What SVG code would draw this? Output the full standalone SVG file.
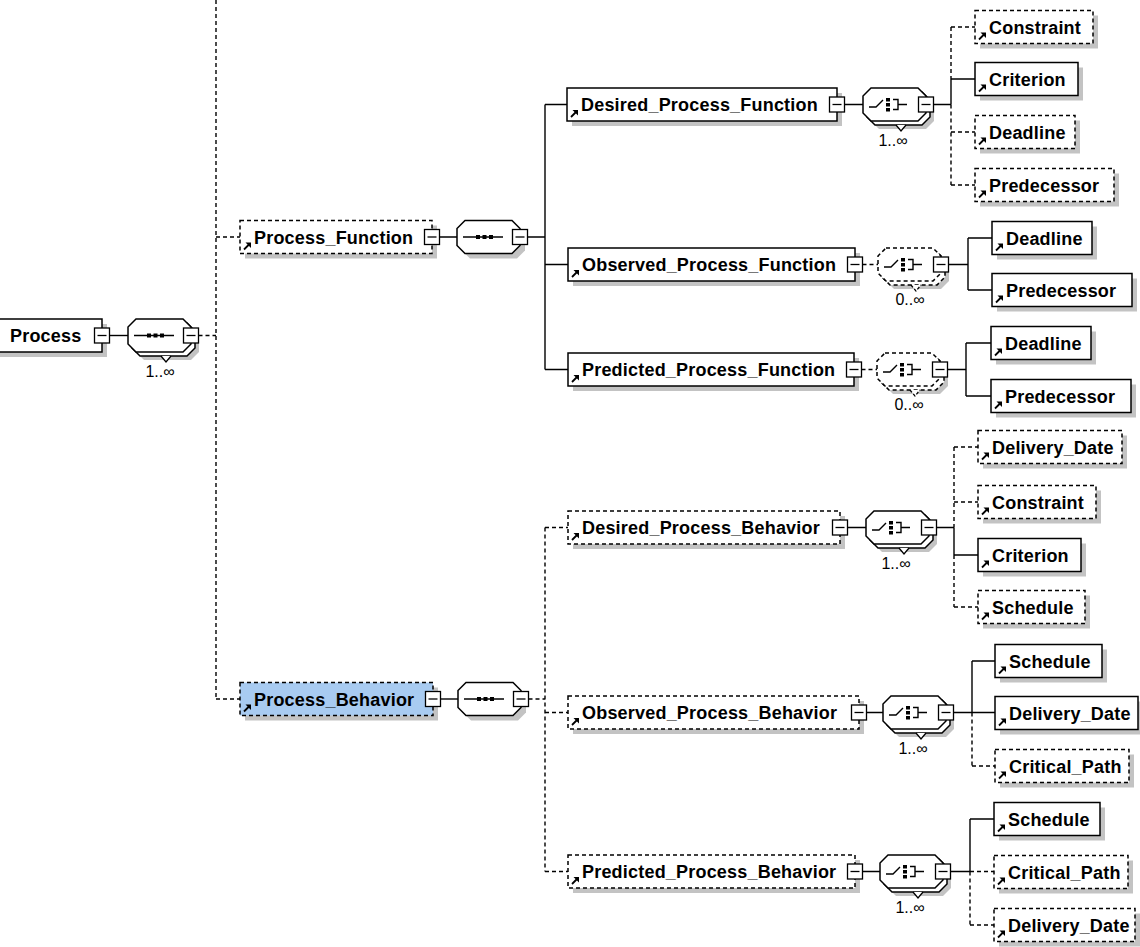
<svg xmlns="http://www.w3.org/2000/svg" xmlns:xlink="http://www.w3.org/1999/xlink" width="1140" height="947" viewBox="0 0 1140 947">
  <style>
    .bx { fill: #fff; stroke: #000; stroke-width: 1.5; }
    .opt { stroke-dasharray: 4 3; }
    .sel { fill: #a8cbf1; }
    .sh { fill: #c3c3c3; stroke: none; }
    .ln { fill: none; stroke: #000; stroke-width: 1.4; }
    .dash { stroke-dasharray: 4 3; }
    .cmp { fill: #fff; stroke: #000; stroke-width: 1.5; }
    .lbl { font-family: "Liberation Sans", Arial, sans-serif; font-weight: bold; font-size: 18px; letter-spacing: 0.2px; fill: #000; }
    .occ { font-family: "Liberation Sans", Arial, sans-serif; font-size: 16px; fill: #000; text-anchor: middle; }
  </style>
  <defs>
    <!-- compositor outline -->
    <path id="oct" d="M8 0H55L63 8V25L55 33H8L0 25V8Z"/>
    <!-- expand/collapse button, centred on its anchor -->
    <g id="minus">
      <rect x="-7.5" y="-7.5" width="15" height="15" fill="#fff" stroke="#000" stroke-width="1.3"/>
      <path d="M-4.5 0H4.5" stroke="#000" stroke-width="1.3"/>
    </g>
    <!-- global reference arrow, anchored at the box's lower-left corner -->
    <g id="ref">
      <path d="M4 -4L9 -9" stroke="#000" stroke-width="1.8"/>
      <path d="M5.5 -11H11V-5.5Z" fill="#000"/>
    </g>
    <!-- sequence glyph -->
    <g id="seqIcon">
      <path d="M6 16.5H46" stroke="#000" stroke-width="1.4"/>
      <rect x="19" y="14.5" width="4" height="4"/>
      <rect x="25.5" y="14.5" width="4" height="4"/>
      <rect x="32" y="14.5" width="4" height="4"/>
    </g>
    <!-- choice glyph -->
    <g id="choiceIcon">
      <path d="M6 19H13L20 12" fill="none" stroke="#000" stroke-width="1.4"/>
      <rect x="23" y="10" width="4" height="3.5"/>
      <rect x="23" y="15" width="4" height="3.5"/>
      <rect x="23" y="20" width="4" height="3.5"/>
      <path d="M30 11.5H35V21.5H30M35 16.5H44" fill="none" stroke="#000" stroke-width="1.4"/>
    </g>
    <!-- stacked back outline for repeating compositors -->
    <g id="stackBack">
      <use xlink:href="#oct" x="8" y="8" class="sh"/>
      <use xlink:href="#oct" x="4" y="4" class="cmp"/>
      <path d="M33 37L38 43L43 37" fill="#fff" stroke="#000" stroke-width="1.3"/>
    </g>
    <g id="stackBackOpt">
      <use xlink:href="#oct" x="8" y="8" class="sh"/>
      <use xlink:href="#oct" x="4" y="4" class="cmp opt"/>
      <path d="M33 37L38 43L43 37" fill="#fff" stroke="#000" stroke-width="1.3" stroke-dasharray="3 2"/>
    </g>
  </defs>

  <!-- connectors -->
  <g id="connectors">
    <path class="ln" d="M110 335.5H128"/>
    <path class="ln dash" d="M198.5 335.5H216M216 0V699M216 237H240M216 699H240"/>

    <path class="ln" d="M439.5 237H457M527.5 237H545M545 104.5V369.5M545 104.5H567M545 264.5H568M545 369.5H568"/>

    <path class="ln" d="M844.5 104.5H863M933.5 104.5H951M951 79V104.5M951 79H975"/>
    <path class="ln dash" d="M951 27V79M951 104.5V185M951 27H975M951 132H975M951 185H975"/>

    <path class="ln dash" d="M862.5 264.5H878"/>
    <path class="ln" d="M948.5 264.5H968M968 238V290M968 238H992M968 290H992"/>

    <path class="ln dash" d="M861.5 369.5H877"/>
    <path class="ln" d="M947.5 369.5H966M966 343V396M966 343H991M966 396H991"/>

    <path class="ln" d="M440.5 699H458"/>
    <path class="ln dash" d="M528.5 699H545M545 527.5V871.5M545 527.5H568M545 712.5H568M545 871.5H568"/>

    <path class="ln" d="M847.5 527.5H866M936.5 527.5H954M954 527.5V555M954 555H978"/>
    <path class="ln dash" d="M954 447V527.5M954 555V607M954 447H978M954 502H978M954 607H978"/>

    <path class="ln" d="M866.5 712.5H883M953.5 712.5H995M972 661V712.5M972 661H995"/>
    <path class="ln dash" d="M972 712.5V766M972 766H995"/>

    <path class="ln" d="M862.5 871.5H880M950.5 871.5H970M970 819V871.5M970 819H994"/>
    <path class="ln dash" d="M970 871.5V925M970 871.5H994M970 925H994"/>
  </g>

  <!-- root element -->
  <g id="n-process">
    <rect class="sh" x="-5" y="324" width="112" height="33"/>
    <rect class="bx" x="-10" y="319" width="112" height="33"/>
    <text class="lbl" x="10" y="342">Process</text>
    <use xlink:href="#minus" x="102" y="335.5"/>
  </g>
  <g id="c-process-seq">
    <use xlink:href="#stackBack" x="128" y="319"/>
    <use xlink:href="#oct" x="128" y="319" class="cmp"/>
    <use xlink:href="#seqIcon" x="128" y="319"/>
    <use xlink:href="#minus" x="191" y="335.5"/>
    <text class="occ" x="160" y="377">1..∞</text>
  </g>

  <!-- Process_Function branch -->
  <g id="n-process-function">
    <rect class="sh" x="245" y="225.5" width="192" height="33"/>
    <rect class="bx opt" x="240" y="220.5" width="192" height="33"/>
    <use xlink:href="#ref" x="240" y="253.5"/>
    <text class="lbl" x="254" y="243.5">Process_Function</text>
    <use xlink:href="#minus" x="432" y="237"/>
  </g>
  <g id="c-process-function-seq">
    <use xlink:href="#oct" x="462" y="225.5" class="sh"/>
    <use xlink:href="#oct" x="457" y="220.5" class="cmp"/>
    <use xlink:href="#seqIcon" x="457" y="220.5"/>
    <use xlink:href="#minus" x="520" y="237"/>
  </g>

  <g id="n-desired-process-function">
    <rect class="sh" x="572" y="93" width="270" height="33"/>
    <rect class="bx" x="567" y="88" width="270" height="33"/>
    <use xlink:href="#ref" x="567" y="121"/>
    <text class="lbl" x="581" y="111">Desired_Process_Function</text>
    <use xlink:href="#minus" x="837" y="104.5"/>
  </g>
  <g id="c-desired-process-function-choice">
    <use xlink:href="#stackBack" x="863" y="88"/>
    <use xlink:href="#oct" x="863" y="88" class="cmp"/>
    <use xlink:href="#choiceIcon" x="863" y="88"/>
    <use xlink:href="#minus" x="926" y="104.5"/>
    <text class="occ" x="893" y="146">1..∞</text>
  </g>
  <g id="n-dpf-constraint">
    <rect class="sh" x="980" y="15.5" width="118" height="33"/>
    <rect class="bx opt" x="975" y="10.5" width="118" height="33"/>
    <use xlink:href="#ref" x="975" y="43.5"/>
    <text class="lbl" x="989" y="33.5">Constraint</text>
  </g>
  <g id="n-dpf-criterion">
    <rect class="sh" x="980" y="67.5" width="103" height="33"/>
    <rect class="bx" x="975" y="62.5" width="103" height="33"/>
    <use xlink:href="#ref" x="975" y="95.5"/>
    <text class="lbl" x="989" y="85.5">Criterion</text>
  </g>
  <g id="n-dpf-deadline">
    <rect class="sh" x="980" y="120.5" width="100" height="33"/>
    <rect class="bx opt" x="975" y="115.5" width="100" height="33"/>
    <use xlink:href="#ref" x="975" y="148.5"/>
    <text class="lbl" x="989" y="138.5">Deadline</text>
  </g>
  <g id="n-dpf-predecessor">
    <rect class="sh" x="980" y="173.5" width="139" height="33"/>
    <rect class="bx opt" x="975" y="168.5" width="139" height="33"/>
    <use xlink:href="#ref" x="975" y="201.5"/>
    <text class="lbl" x="989" y="191.5">Predecessor</text>
  </g>

  <g id="n-observed-process-function">
    <rect class="sh" x="573" y="253" width="287" height="33"/>
    <rect class="bx" x="568" y="248" width="287" height="33"/>
    <use xlink:href="#ref" x="568" y="281"/>
    <text class="lbl" x="582" y="271">Observed_Process_Function</text>
    <use xlink:href="#minus" x="855" y="264.5"/>
  </g>
  <g id="c-observed-process-function-choice">
    <use xlink:href="#stackBackOpt" x="878" y="248"/>
    <use xlink:href="#oct" x="878" y="248" class="cmp opt"/>
    <use xlink:href="#choiceIcon" x="878" y="248"/>
    <use xlink:href="#minus" x="941" y="264.5"/>
    <text class="occ" x="910" y="305">0..∞</text>
  </g>
  <g id="n-opf-deadline">
    <rect class="sh" x="997" y="226.5" width="100" height="33"/>
    <rect class="bx" x="992" y="221.5" width="100" height="33"/>
    <use xlink:href="#ref" x="992" y="254.5"/>
    <text class="lbl" x="1006" y="244.5">Deadline</text>
  </g>
  <g id="n-opf-predecessor">
    <rect class="sh" x="997" y="278.5" width="140" height="33"/>
    <rect class="bx" x="992" y="273.5" width="140" height="33"/>
    <use xlink:href="#ref" x="992" y="306.5"/>
    <text class="lbl" x="1006" y="296.5">Predecessor</text>
  </g>

  <g id="n-predicted-process-function">
    <rect class="sh" x="573" y="358" width="286" height="33"/>
    <rect class="bx" x="568" y="353" width="286" height="33"/>
    <use xlink:href="#ref" x="568" y="386"/>
    <text class="lbl" x="582" y="376">Predicted_Process_Function</text>
    <use xlink:href="#minus" x="854" y="369.5"/>
  </g>
  <g id="c-predicted-process-function-choice">
    <use xlink:href="#stackBackOpt" x="877" y="353"/>
    <use xlink:href="#oct" x="877" y="353" class="cmp opt"/>
    <use xlink:href="#choiceIcon" x="877" y="353"/>
    <use xlink:href="#minus" x="940" y="369.5"/>
    <text class="occ" x="909" y="410">0..∞</text>
  </g>
  <g id="n-ppf-deadline">
    <rect class="sh" x="996" y="331.5" width="100" height="33"/>
    <rect class="bx" x="991" y="326.5" width="100" height="33"/>
    <use xlink:href="#ref" x="991" y="359.5"/>
    <text class="lbl" x="1005" y="349.5">Deadline</text>
  </g>
  <g id="n-ppf-predecessor">
    <rect class="sh" x="996" y="384.5" width="140" height="33"/>
    <rect class="bx" x="991" y="379.5" width="140" height="33"/>
    <use xlink:href="#ref" x="991" y="412.5"/>
    <text class="lbl" x="1005" y="402.5">Predecessor</text>
  </g>

  <!-- Process_Behavior branch -->
  <g id="n-process-behavior">
    <rect class="sh" x="245" y="687.5" width="193" height="33"/>
    <rect class="bx opt sel" x="240" y="682.5" width="193" height="33"/>
    <use xlink:href="#ref" x="240" y="715.5"/>
    <text class="lbl" x="254" y="705.5">Process_Behavior</text>
    <use xlink:href="#minus" x="433" y="699"/>
  </g>
  <g id="c-process-behavior-seq">
    <use xlink:href="#oct" x="463" y="687.5" class="sh"/>
    <use xlink:href="#oct" x="458" y="682.5" class="cmp"/>
    <use xlink:href="#seqIcon" x="458" y="682.5"/>
    <use xlink:href="#minus" x="521" y="699"/>
  </g>

  <g id="n-desired-process-behavior">
    <rect class="sh" x="573" y="516" width="272" height="33"/>
    <rect class="bx opt" x="568" y="511" width="272" height="33"/>
    <use xlink:href="#ref" x="568" y="544"/>
    <text class="lbl" x="582" y="534">Desired_Process_Behavior</text>
    <use xlink:href="#minus" x="840" y="527.5"/>
  </g>
  <g id="c-desired-process-behavior-choice">
    <use xlink:href="#stackBack" x="866" y="511"/>
    <use xlink:href="#oct" x="866" y="511" class="cmp"/>
    <use xlink:href="#choiceIcon" x="866" y="511"/>
    <use xlink:href="#minus" x="929" y="527.5"/>
    <text class="occ" x="896" y="569">1..∞</text>
  </g>
  <g id="n-dpb-delivery-date">
    <rect class="sh" x="983" y="435.5" width="144" height="33"/>
    <rect class="bx opt" x="978" y="430.5" width="144" height="33"/>
    <use xlink:href="#ref" x="978" y="463.5"/>
    <text class="lbl" x="992" y="453.5">Delivery_Date</text>
  </g>
  <g id="n-dpb-constraint">
    <rect class="sh" x="983" y="490.5" width="118" height="33"/>
    <rect class="bx opt" x="978" y="485.5" width="118" height="33"/>
    <use xlink:href="#ref" x="978" y="518.5"/>
    <text class="lbl" x="992" y="508.5">Constraint</text>
  </g>
  <g id="n-dpb-criterion">
    <rect class="sh" x="983" y="543.5" width="103" height="33"/>
    <rect class="bx" x="978" y="538.5" width="103" height="33"/>
    <use xlink:href="#ref" x="978" y="571.5"/>
    <text class="lbl" x="992" y="561.5">Criterion</text>
  </g>
  <g id="n-dpb-schedule">
    <rect class="sh" x="983" y="595.5" width="107" height="33"/>
    <rect class="bx opt" x="978" y="590.5" width="107" height="33"/>
    <use xlink:href="#ref" x="978" y="623.5"/>
    <text class="lbl" x="992" y="613.5">Schedule</text>
  </g>

  <g id="n-observed-process-behavior">
    <rect class="sh" x="573" y="701" width="291" height="33"/>
    <rect class="bx opt" x="568" y="696" width="291" height="33"/>
    <use xlink:href="#ref" x="568" y="729"/>
    <text class="lbl" x="582" y="719">Observed_Process_Behavior</text>
    <use xlink:href="#minus" x="859" y="712.5"/>
  </g>
  <g id="c-observed-process-behavior-choice">
    <use xlink:href="#stackBack" x="883" y="696"/>
    <use xlink:href="#oct" x="883" y="696" class="cmp"/>
    <use xlink:href="#choiceIcon" x="883" y="696"/>
    <use xlink:href="#minus" x="946" y="712.5"/>
    <text class="occ" x="913" y="754">1..∞</text>
  </g>
  <g id="n-opb-schedule">
    <rect class="sh" x="1000" y="649.5" width="107" height="33"/>
    <rect class="bx" x="995" y="644.5" width="107" height="33"/>
    <use xlink:href="#ref" x="995" y="677.5"/>
    <text class="lbl" x="1009" y="667.5">Schedule</text>
  </g>
  <g id="n-opb-delivery-date">
    <rect class="sh" x="1000" y="701.5" width="143" height="33"/>
    <rect class="bx" x="995" y="696.5" width="143" height="33"/>
    <use xlink:href="#ref" x="995" y="729.5"/>
    <text class="lbl" x="1009" y="719.5">Delivery_Date</text>
  </g>
  <g id="n-opb-critical-path">
    <rect class="sh" x="1000" y="754.5" width="134" height="33"/>
    <rect class="bx opt" x="995" y="749.5" width="134" height="33"/>
    <use xlink:href="#ref" x="995" y="782.5"/>
    <text class="lbl" x="1009" y="772.5">Critical_Path</text>
  </g>

  <g id="n-predicted-process-behavior">
    <rect class="sh" x="573" y="860" width="287" height="33"/>
    <rect class="bx opt" x="568" y="855" width="287" height="33"/>
    <use xlink:href="#ref" x="568" y="888"/>
    <text class="lbl" x="582" y="878">Predicted_Process_Behavior</text>
    <use xlink:href="#minus" x="855" y="871.5"/>
  </g>
  <g id="c-predicted-process-behavior-choice">
    <use xlink:href="#stackBack" x="880" y="855"/>
    <use xlink:href="#oct" x="880" y="855" class="cmp"/>
    <use xlink:href="#choiceIcon" x="880" y="855"/>
    <use xlink:href="#minus" x="943" y="871.5"/>
    <text class="occ" x="910" y="913">1..∞</text>
  </g>
  <g id="n-ppb-schedule">
    <rect class="sh" x="999" y="807.5" width="106" height="33"/>
    <rect class="bx" x="994" y="802.5" width="106" height="33"/>
    <use xlink:href="#ref" x="994" y="835.5"/>
    <text class="lbl" x="1008" y="825.5">Schedule</text>
  </g>
  <g id="n-ppb-critical-path">
    <rect class="sh" x="999" y="860.5" width="134" height="33"/>
    <rect class="bx opt" x="994" y="855.5" width="134" height="33"/>
    <use xlink:href="#ref" x="994" y="888.5"/>
    <text class="lbl" x="1008" y="878.5">Critical_Path</text>
  </g>
  <g id="n-ppb-delivery-date">
    <rect class="sh" x="999" y="913.5" width="141" height="33"/>
    <rect class="bx opt" x="994" y="908.5" width="141" height="33"/>
    <use xlink:href="#ref" x="994" y="941.5"/>
    <text class="lbl" x="1008" y="931.5">Delivery_Date</text>
  </g>
</svg>
